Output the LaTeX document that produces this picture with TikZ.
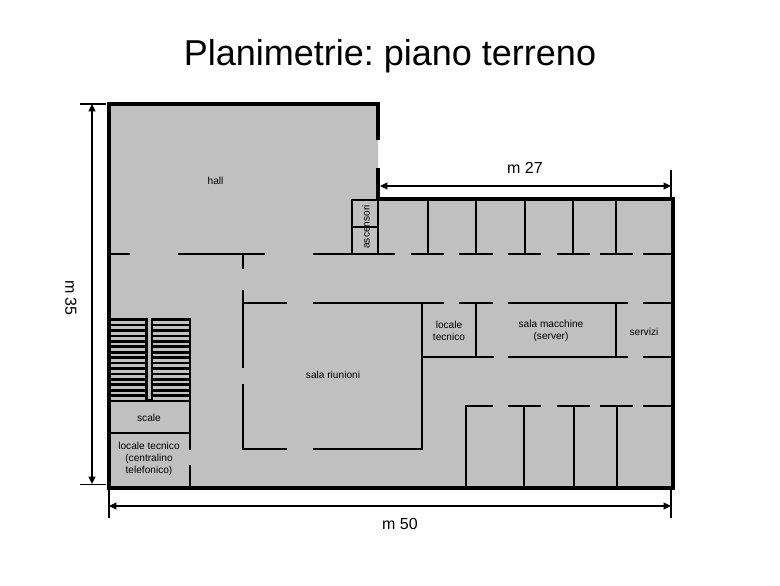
\documentclass[tikz,border=0pt]{standalone}
\usepackage{fontspec}
\setmainfont{Liberation Sans}
\usetikzlibrary{arrows.meta}
\definecolor{floorgrey}{HTML}{C0C0C0}
\tikzset{
  outerwall/.style={draw=black,line width=3pt,line cap=butt},
  innerwall/.style={draw=black,line width=2.2pt,line cap=butt},
  dimline/.style={draw=black,line width=1.2pt,{Triangle[length=5.5pt,width=5pt]}-{Triangle[length=5.5pt,width=5pt]}},
  tickline/.style={draw=black,line width=1.1pt},
  roomlabel/.style={font=\fontsize{7.6pt}{9pt}\selectfont,align=center,inner sep=0pt,text=black},
  dimlabel/.style={font=\fontsize{12pt}{14pt}\selectfont,inner sep=0pt,text=black},
}
\begin{document}
\frenchspacing
\begin{tikzpicture}[x=0.75pt,y=-0.75pt]
\useasboundingbox (0,0) rectangle (780,585);
% floor
\fill[floorgrey] (109,104) -- (378,104) -- (378,199) -- (673,199) -- (673,488) -- (109,488) -- cycle;
% stairs
\fill[black] (108,318) rectangle (191,402);
\fill[floorgrey] (148,318) rectangle (150.5,399);
\foreach \k in {0,...,14}{
  \fill[floorgrey] (111,321+\k*5.43) rectangle (145,323.7+\k*5.43);
  \fill[floorgrey] (153,321+\k*5.43) rectangle (188.5,323.7+\k*5.43);
}
% outer walls
\draw[outerwall] (378,140) -- (378,104) -- (109,104) -- (109,488) -- (673,488) -- (673,199) -- (378,199) -- (378,168);
% corridor y=254
\foreach \a/\b in {109/130,178/265,313/395,411/444,459/493,508/541,557/590,600/633,643/673}
  \draw[innerwall] (\a,254) -- (\b,254);
% office partitions above
\foreach \a in {428,476,525,573,616}
  \draw[innerwall] (\a,199) -- (\a,254);
% lifts
\draw[innerwall] (378,200) -- (352,200) -- (352,254);
\draw[innerwall] (352,227) -- (378,227);
\draw[innerwall] (378,199) -- (378,254);
% meeting room
\draw[innerwall] (243,254) -- (243,269);
\draw[innerwall] (243,290) -- (243,368);
\draw[innerwall] (243,384) -- (243,449) -- (287,449);
\draw[innerwall] (313,449) -- (422,449) -- (422,303);
\foreach \a/\b in {243/287,313/444,459/493,508/628,643/673}
  \draw[innerwall] (\a,303) -- (\b,303);
% technical rooms
\draw[innerwall] (476,303) -- (476,357);
\draw[innerwall] (616,303) -- (616,357);
\foreach \a/\b in {422/494,508/628,643/673}
  \draw[innerwall] (\a,357) -- (\b,357);
% lower offices
\draw[innerwall] (493,406) -- (466,406) -- (466,488);
\foreach \a/\b in {508/541,557/590,600/633,643/673}
  \draw[innerwall] (\a,406) -- (\b,406);
\foreach \a in {524,574,617}
  \draw[innerwall] (\a,406) -- (\a,488);
% under stairs
\draw[innerwall] (109,433) -- (190,433);
\draw[innerwall] (190,402) -- (190,450);
\draw[innerwall] (190,465) -- (190,488);
% dimensions
\coordinate (leftA) at (92,104);
\coordinate (leftB) at (92,484);
\coordinate (botA) at (109,506);
\coordinate (botB) at (671,506);
\coordinate (topA) at (380,186);
\coordinate (topB) at (671,186);
\draw[tickline] (80,104) -- (106,104);
\draw[tickline] (80,484.5) -- (106,484.5);
\draw[tickline] (109,490) -- (109,518);
\draw[tickline] (671,490) -- (671,518);
\draw[tickline] (671,170) -- (671,197);
\draw[dimline] (leftA) -- (leftB);
\draw[dimline] (botA) -- (botB);
\draw[dimline] (topA) -- (topB);
% labels
\node[inner sep=0pt,font=\fontsize{27pt}{30pt}\selectfont] (title) at (390,56) {Planimetrie: piano terreno};
\node[dimlabel] (m27) at (525,168) {m 27};
\node[dimlabel] (m50) at (400,524) {m 50};
\node[dimlabel,rotate=-90] (m35) at (71,298) {m 35};
\node[roomlabel] (hall) at (215.5,181) {hall};
\node[roomlabel,rotate=90] (lift) at (366,227) {ascensori};
\node[roomlabel] (loctec) at (449,331) {locale\\tecnico};
\node[roomlabel] (server) at (551,331) {sala macchine\\(server)};
\node[roomlabel] (wc) at (644,332) {servizi};
\node[roomlabel] (meet) at (333,375) {sala riunioni};
\node[roomlabel] (stairs) at (149,418) {scale};
\node[roomlabel] (phone) at (149,459) {locale tecnico\\(centralino\\telefonico)};
\end{tikzpicture}
\end{document}
